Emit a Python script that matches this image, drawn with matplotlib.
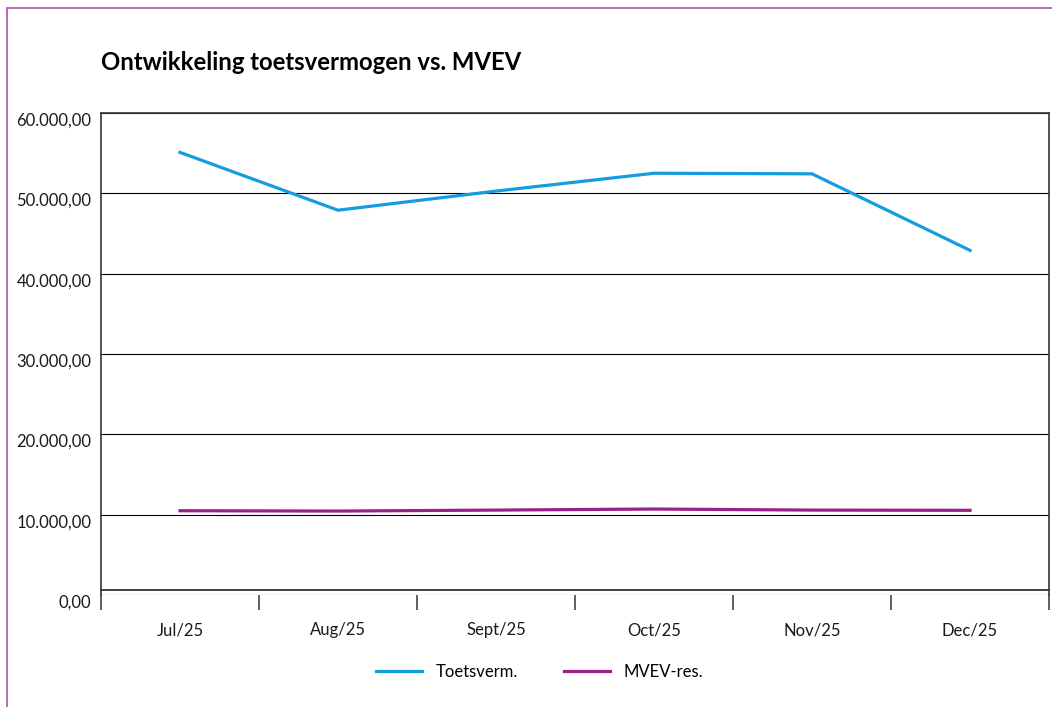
import matplotlib
matplotlib.use("Agg")
import matplotlib.pyplot as plt
import matplotlib.transforms as mtransforms
from matplotlib.patches import Rectangle

# data
months = ["Jul/25", "Aug/25", "Sept/25", "Oct/25", "Nov/25", "Dec/25"]
toetsverm = [55100, 47900, 50280, 52500, 52430, 42900]
mvev_res = [10490, 10450, 10570, 10700, 10570, 10540]
y_ticks = [0, 10000, 20000, 30000, 40000, 50000, 60000]
y_labels = ["0,00", "10.000,00", "20.000,00", "30.000,00",
            "40.000,00", "50.000,00", "60.000,00"]

plt.rcParams['font.family'] = ['Lato', 'DejaVu Sans']

W, H = 1052, 707
fig = plt.figure(figsize=(W / 100, H / 100), dpi=100)
ax = fig.add_axes([101 / W, 1 - 595 / H, (1049 - 101) / W, (595 - 113) / H])

x = list(range(len(months)))
ax.plot(x, toetsverm, color='#149ddf', lw=2.3, label='Toetsverm.',
        solid_joinstyle='miter')
ax.plot(x, mvev_res, color='#9b2188', lw=2.3, label='MVEV-res.')

ax.set_xlim(-0.5, len(months) - 0.5)
ax.set_ylim(0, 60000)

# y axis
ax.set_yticks(y_ticks)
ax.set_yticklabels(y_labels, fontsize=12, color='#1a1a1a')
ax.tick_params(axis='y', length=0, pad=7)
offset = mtransforms.ScaledTranslation(0, -6 / 100, fig.dpi_scale_trans)
for lab in ax.get_yticklabels():
    lab.set_transform(lab.get_transform() + offset)
ax.yaxis.grid(True, color='black', lw=0.8)

# x axis: boundary ticks, labels centred between them
ax.set_xticks([i - 0.5 for i in range(len(months) + 1)])
ax.set_xticklabels([])
ax.tick_params(axis='x', which='major', length=11, width=1.2,
               color='#444444', direction='out')
ax.set_xticks(x, minor=True)
ax.set_xticklabels(months, minor=True, fontsize=12, color='#1a1a1a')
ax.tick_params(axis='x', which='minor', length=0, pad=19.5)

for side in ['left', 'right', 'top', 'bottom']:
    ax.spines[side].set_color('#333333')
    ax.spines[side].set_linewidth(1.2)
ax.spines['bottom'].set_visible(False)
ax.plot([0, 1], [5 / 482] * 2, transform=ax.transAxes, color='#222222',
        lw=1.2, clip_on=False)
ax.set_axisbelow(True)

fig.text(101 / W, 1 - 63 / H, "Ontwikkeling toetsvermogen vs. MVEV",
         fontsize=17.2, fontweight='bold', va='center', ha='left')

fig.legend(loc='center', bbox_to_anchor=(0.513, 1 - 672 / H), ncol=2,
           frameon=False, fontsize=12, handlelength=2.75,
           columnspacing=2.8, handletextpad=0.8)

# outer frame
fig.patches.append(Rectangle((7 / W, -0.1), 2, 1 - 8 / H + 0.1,
                             transform=fig.transFigure, fill=False,
                             edgecolor='#b45db4', lw=1.3, clip_on=False))

fig.savefig("out.png", dpi=100)
